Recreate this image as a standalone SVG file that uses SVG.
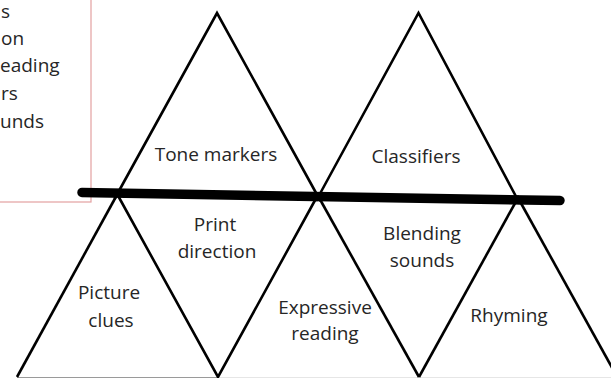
<svg xmlns="http://www.w3.org/2000/svg" width="611" height="378" viewBox="0 0 611 378">
<style>
.tri{fill:none;stroke:#000;stroke-width:2.6;stroke-linejoin:miter}
.lbl{font-family:"Open Sans","Liberation Sans",sans-serif;font-size:19px;fill:#262626;text-anchor:middle}
.frag{font-family:"Open Sans","Liberation Sans",sans-serif;font-size:19px;fill:#262626}
</style>
<rect width="611" height="378" fill="#fff"/>
<g id="list-fragment">
<rect x="-2" y="-10" width="93" height="212" fill="none" stroke="#e3a0a0" stroke-width="1.2"/>
<text class="frag" x="1" y="18">s</text>
<text class="frag" x="1" y="45">on</text>
<text class="frag" x="0" y="72">eading</text>
<text class="frag" x="1" y="100">rs</text>
<text class="frag" x="0" y="128">unds</text>
</g>
<g id="baseline">
<line x1="17" y1="377.5" x2="218" y2="377.5" stroke="#9a9a9a" stroke-width="1"/>
<line x1="218" y1="377.5" x2="611" y2="377.5" stroke="#e6e6e6" stroke-width="1"/>
</g>
<g id="tone-markers">
<path class="tri" d="M114.5,199 L217,13 L320.5,201"/>
<text class="lbl" x="216" y="161">Tone markers</text>
</g>
<g id="classifiers">
<path class="tri" d="M316,201 L418.5,13 L520,204"/>
<text class="lbl" x="416" y="163">Classifiers</text>
</g>
<g id="picture-clues">
<path class="tri" d="M17,377 L118,193"/>
<text class="lbl" x="109" y="299">Picture</text>
<text class="lbl" x="111" y="327">clues</text>
</g>
<g id="print-direction">
<path class="tri" d="M116,192 L218,377 L319,193"/>
<text class="lbl" x="215" y="231">Print</text>
<text class="lbl" x="217" y="258">direction</text>
</g>
<g id="expressive-reading">
<path class="tri" d="M317,194 L419,377"/>
<text class="lbl" x="325" y="314">Expressive</text>
<text class="lbl" x="325" y="340">reading</text>
</g>
<g id="blending-sounds">
<path class="tri" d="M419,377 L519,196"/>
<text class="lbl" x="422" y="240">Blending</text>
<text class="lbl" x="422" y="267">sounds</text>
</g>
<g id="rhyming">
<path class="tri" d="M517,196 L620,382"/>
<text class="lbl" x="509" y="322">Rhyming</text>
</g>
<g id="connectors">
<line x1="82" y1="192.5" x2="560" y2="200.5" stroke="#000" stroke-width="9.5" stroke-linecap="round"/>
</g>
</svg>
